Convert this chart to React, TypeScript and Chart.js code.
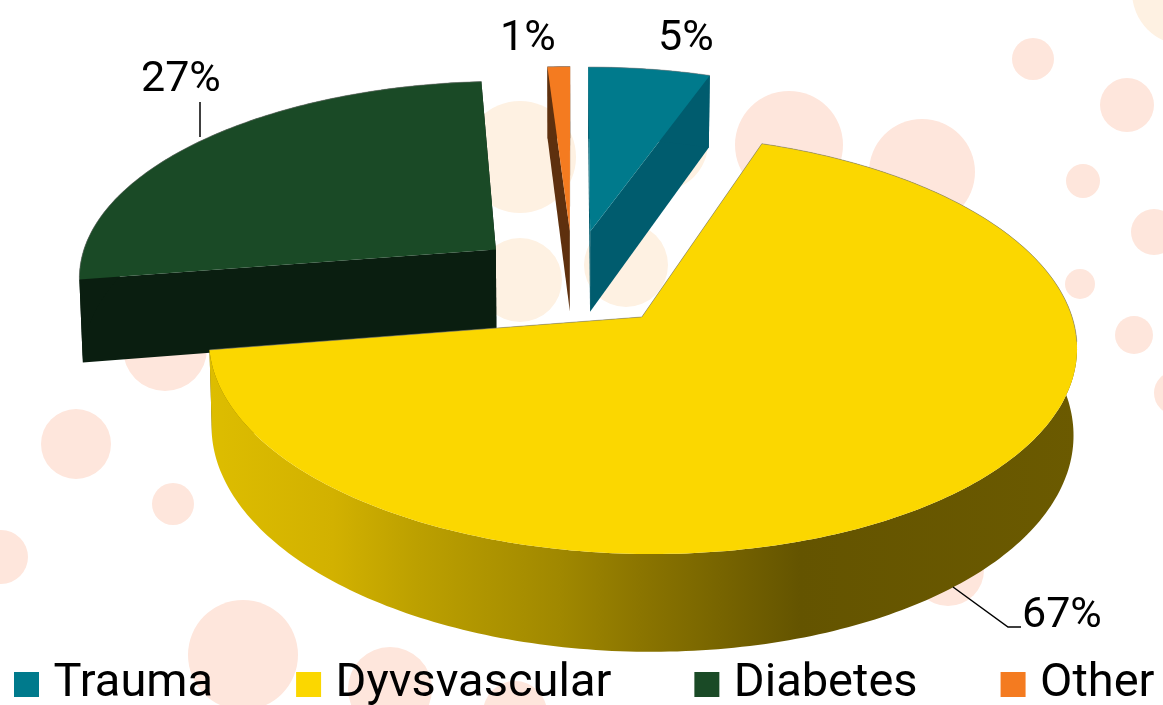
import React, { useEffect, useRef } from "react";
import { Chart, registerables } from "chart.js";

Chart.register(...registerables);

const categories = ["Trauma", "Dyvsvascular", "Diabetes", "Other"];
const values = [5.4, 67.1, 26.5, 1];
const topColors = ["#007A8C", "#FBD700", "#1A4A26", "#F47B20"];
const sideColors = ["#005C6E", "#6B5A00", "#0A1E10", "#5E300E"];
const explosion = [25, 25, 24, 25];
const drawOrder = [0, 3, 2, 1];
const labelAnchors = [[658, 50], [1022, 627], [141, 91], [500, 50]];
const leaderLines = [[], [[953, 587], [1008, 627], [1021, 627]], [[200, 102], [200, 137]], []];
const wallStops: [number, string][] = [
  [211, "#DDBD00"], [333, "#D2B100"], [417, "#BCA000"], [560, "#A08800"],
  [640, "#8B7500"], [800, "#645400"], [1079, "#6B5A00"],
];
const pinkDots = [
  [789, 145, 54], [922, 172, 53], [1033, 59, 21], [1127, 105, 27], [1083, 181, 17],
  [1154, 232, 23], [1080, 284, 15], [1134, 335, 19], [1176, 393, 22], [165, 349, 42],
  [76, 444, 35], [173, 504, 21], [1, 557, 27], [243, 655, 55], [390, 689, 42],
  [948, 570, 36], [515, 713, 32],
];
const creamDots = [
  [520, 157, 56], [520, 280, 42], [626, 265, 42], [660, 143, 48], [1185, -8, 53],
];

// Perspective of the tilted disc, in units of the slice radius.
const CENTER_X = 573, ORIGIN_Y = 316, SCALE_X = 430, SCALE_Y = 206, PERSP = 0.13;
const CENTER_V = -0.1875, DEPTH = 85, BASE_SHRINK = 0.993;

function project(u: number, v: number, drop: number): [number, number] {
  const vv = v + CENTER_V;
  const s = 1 / (1 - PERSP * vv);
  const x = SCALE_X * u * s * (drop ? BASE_SHRINK : 1);
  return [CENTER_X + x, ORIGIN_Y + SCALE_Y * vv * s + (drop ? DEPTH * s : 0)];
}

function trace(ctx: CanvasRenderingContext2D, pts: [number, number][], close = true) {
  ctx.beginPath();
  pts.forEach((p, i) => (i ? ctx.lineTo(p[0], p[1]) : ctx.moveTo(p[0], p[1])));
  if (close) ctx.closePath();
}

const pie3d = {
  id: "pie3d",
  beforeDraw(chart: any) {
    const { ctx } = chart;
    ctx.save();
    ctx.fillStyle = "#FEE6DC";
    pinkDots.forEach(([x, y, r]) => { ctx.beginPath(); ctx.arc(x, y, r, 0, Math.PI * 2); ctx.fill(); });
    ctx.fillStyle = "#FEF1E2";
    creamDots.forEach(([x, y, r]) => { ctx.beginPath(); ctx.arc(x, y, r, 0, Math.PI * 2); ctx.fill(); });
    ctx.restore();
  },
  beforeDatasetDraw() {
    return false;
  },
  beforeDatasetsDraw(chart: any) {
    const { ctx } = chart;
    const arcs = chart.getDatasetMeta(0).data;
    ctx.save();
    drawOrder.forEach((i) => {
      const el = arcs[i];
      const a0 = el.startAngle, a1 = el.endAngle, mid = (a0 + a1) / 2;
      const e = el.options.offset / 100;
      const ou = e * Math.cos(mid), ov = e * Math.sin(mid);
      const steps = Math.max(4, Math.ceil((a1 - a0) * 60));
      const angles: number[] = [];
      for (let k = 0; k <= steps; k++) angles.push(a0 + ((a1 - a0) * k) / steps);
      const arcPts = (drop: number) =>
        angles.map((a) => project(ou + Math.cos(a), ov + Math.sin(a), drop));
      const apexT = project(ou, ov, 0), apexB = project(ou, ov, DEPTH);
      const top = arcPts(0), bottom = arcPts(DEPTH);
      ctx.fillStyle = sideColors[i];
      trace(ctx, [apexT, top[0], bottom[0], apexB]); ctx.fill();
      trace(ctx, [apexT, top[steps], bottom[steps], apexB]); ctx.fill();
      if (i === 1) {
        const g = ctx.createLinearGradient(211, 0, 1079, 0);
        wallStops.forEach(([x, c]) => g.addColorStop((x - 211) / (1079 - 211), c));
        ctx.fillStyle = g;
      }
      trace(ctx, [...top, ...bottom.slice().reverse()]); ctx.fill();
      ctx.fillStyle = topColors[i];
      trace(ctx, [apexT, ...top]); ctx.fill();
      ctx.strokeStyle = "rgba(130,130,130,0.55)";
      ctx.lineWidth = 1;
      if (i === 1) {
        const backRim = top.filter((_, k) => angles[k] <= 0.12);
        trace(ctx, [top[steps], apexT, ...backRim], false);
      } else {
        trace(ctx, top, false);
      }
      ctx.stroke();
    });
    ctx.restore();
  },
  afterDatasetsDraw(chart: any) {
    const { ctx } = chart;
    ctx.save();
    ctx.fillStyle = "#000";
    ctx.strokeStyle = "#000";
    ctx.lineWidth = 1.5;
    ctx.font = "43px Roboto";
    ctx.textAlign = "left";
    ctx.textBaseline = "alphabetic";
    values.forEach((v, i) => {
      ctx.fillText(`${Math.round(v)}%`, labelAnchors[i][0], labelAnchors[i][1]);
      const line = leaderLines[i];
      if (line.length) {
        trace(ctx, line as [number, number][], false);
        ctx.stroke();
      }
    });
    ctx.restore();
  },
};

export default function App() {
  const ref = useRef<HTMLCanvasElement>(null);
  useEffect(() => {
    document.body.style.margin = "0";
    document.body.style.overflow = "hidden";
    const chart = new Chart(ref.current!, {
      type: "pie",
      data: {
        labels: categories,
        datasets: [{ data: values, backgroundColor: topColors, offset: explosion, borderWidth: 0 }],
      },
      options: {
        responsive: false,
        animation: false,
        layout: { padding: { left: -69, right: -100, top: 0, bottom: -13 } },
        plugins: {
          tooltip: { enabled: false },
          legend: {
            position: "bottom",
            align: "start",
            labels: {
              color: "#000",
              font: { family: "Roboto", size: 47, lineHeight: 1.33 },
              boxWidth: 7,
              boxHeight: 7,
              padding: 92,
              generateLabels: () =>
                categories.map((text, index) => ({
                  text, index, hidden: false,
                  fillStyle: topColors[index],
                  strokeStyle: topColors[index],
                  lineWidth: 18,
                })),
            },
          },
        },
      },
      plugins: [pie3d],
    } as any);
    return () => chart.destroy();
  }, []);
  return <canvas ref={ref} width={1163} height={705} style={{ display: "block" }} />;
}
